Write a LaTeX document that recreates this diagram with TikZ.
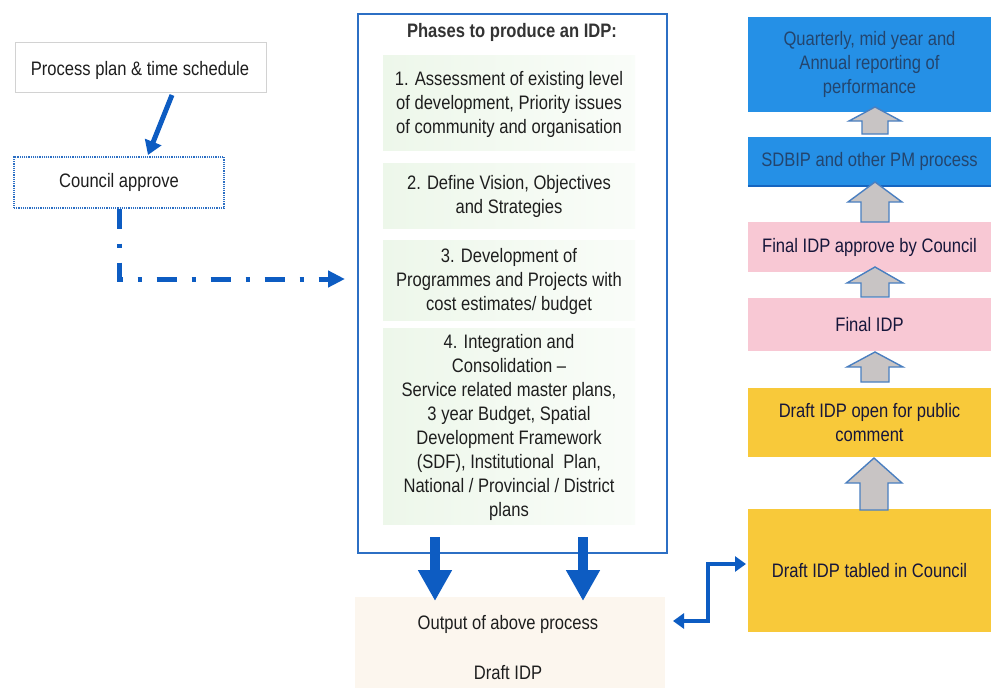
\documentclass[tikz,border=0pt]{standalone}
\usepackage{fontspec}
\setmainfont{Liberation Sans}[FakeStretch=0.85]
\usetikzlibrary{arrows.meta}
\definecolor{arrblue}{HTML}{0D5CC2}
\definecolor{phaseblue}{HTML}{2C6FC4}
\definecolor{panelg}{HTML}{EDF7EA}
\definecolor{outfill}{HTML}{FCF6EE}
\definecolor{boxblue}{HTML}{2590E6}
\definecolor{boxblueline}{HTML}{1565C0}
\definecolor{boxpink}{HTML}{F8C8D4}
\definecolor{boxyellow}{HTML}{F8C93A}
\definecolor{txtdark}{HTML}{1E1E1E}
\definecolor{txtnavy}{HTML}{16163A}
\definecolor{txtblue}{HTML}{23456E}
\definecolor{arrgray}{HTML}{C8C4C4}
\definecolor{arredge}{HTML}{4A7FC0}
\newcommand{\UpArrow}[6]{%
  \draw[blockarr] (#1,#2) -- (#1+#5,#3) -- (#1+#6,#3) -- (#1+#6,#4)
    -- (#1-#6,#4) -- (#1-#6,#3) -- (#1-#5,#3) -- cycle;}
\begin{document}
\begin{tikzpicture}[x=1pt,y=-1pt,
  every node/.style={font=\fontsize{19.5}{24}\selectfont, text=txtdark, inner sep=0pt},
  plainbox/.style={draw=gray!35, line width=0.8pt, minimum width=251pt, minimum height=50pt},
  dotbox/.style={draw=phaseblue, densely dotted, line width=1.2pt, minimum width=210pt, minimum height=51pt},
  phasebox/.style={draw=phaseblue, line width=1.6pt, minimum width=309pt, minimum height=539pt},
  panel/.style={left color=panelg, right color=panelg!30, minimum width=252pt, align=center},
  rbox/.style={minimum width=243pt, align=center, text=txtnavy},
  blockarr/.style={fill=arrgray, draw=arredge, line width=1.4pt, line join=miter},
  fatarrow/.style={draw=arrblue, line width=10pt, -{Triangle[length=31pt,width=32pt]}},
  diagarrow/.style={draw=arrblue, line width=5pt, -{Triangle[length=14pt,width=17pt]}},
  elbowarrow/.style={draw=arrblue, line width=4pt, {Triangle[length=11pt,width=15pt]}-{Triangle[length=11pt,width=15pt]}},
  dashconn/.style={draw=arrblue, line width=5pt, dash pattern=on 20pt off 15pt on 4pt off 15pt, -{Triangle[length=17pt,width=16pt]}}
]
\useasboundingbox (0,0) rectangle (991,688);
\fill[white] (0,0) rectangle (991,688);

% left column
\node[plainbox] (plan) at (140.5,67) {};
\node (plantxt) at (140,70) {Process plan \& time schedule};
\node[dotbox] (council) at (119,182.5) {Council approve};
\draw[diagarrow] (172,95) -- (148,155);
\coordinate (cin) at (345,279);
\draw[dashconn] (council.south) |- (cin);

% phases box
\node[phasebox] (phases) at (512.5,283.5) {};
\node[font=\fontsize{19.5}{24}\selectfont\bfseries, text=black!80] (title) at (512,32) {Phases to produce an IDP:};
\node[panel, minimum height=95pt] (p1) at (509,102.5) {};
\node[align=center] (p1t) at (509,104) {1. Assessment of existing level\\of development, Priority issues\\of community and organisation};
\node[panel, minimum height=65pt] (p2) at (509,195.5) {};
\node[align=center] (p2t) at (509,196) {2. Define Vision, Objectives\\and Strategies};
\node[panel, minimum height=80pt] (p3) at (509,280) {};
\node[align=center] (p3t) at (509,281) {3. Development of\\Programmes and Projects with\\cost estimates/ budget};
\node[panel, minimum height=196pt] (p4) at (509,426) {};
\node[align=center] (p4t) at (509,427) {4. Integration and\\Consolidation --\\Service related master plans,\\3 year Budget, Spatial\\Development Framework\\(SDF), Institutional~ Plan,\\National / Provincial / District\\plans};

% output box
\node[fill=outfill, minimum width=310pt, minimum height=91pt] (out) at (510,642.5) {};
\node (outt1) at (508,624) {Output of above process};
\node (outt2) at (508,673) {Draft IDP};
\draw[fatarrow] (435,537) -- (435,601);
\draw[fatarrow] (583,537) -- (583,601);

% right column
\node[rbox, fill=boxblue, minimum height=95pt, text=txtblue] (b1) at (869.5,64.5) {Quarterly, mid year and\\Annual reporting of\\performance};
\node[rbox, fill=boxblue, minimum height=49pt, text=txtblue] (b2) at (869.5,161.5) {SDBIP and other PM process};
\draw[boxblueline, line width=2pt] (b2.south west) -- (b2.south east);
\node[rbox, fill=boxpink, minimum height=50pt] (b3) at (869.5,247) {Final IDP approve by Council};
\node[rbox, fill=boxpink, minimum height=53pt] (b4) at (869.5,324.5) {Final IDP};
\node[rbox, fill=boxyellow, minimum height=69pt] (b5) at (869.5,422.5) {Draft IDP open for public\\comment};
\node[rbox, fill=boxyellow, minimum height=123pt] (b6) at (869.5,570.5) {Draft IDP tabled in Council};

\UpArrow{875}{107}{121}{134}{26}{13}
\UpArrow{875}{182}{202}{222}{27}{14}
\UpArrow{875}{267}{283}{297}{28}{14}
\UpArrow{875}{352}{367}{382}{28}{14}
\UpArrow{874}{458}{483}{510}{28}{14}

% elbow connector
\coordinate (ea) at (673,621);
\coordinate (eb) at (746,564);
\draw[elbowarrow] (ea) -- (708,621) |- (eb);
\end{tikzpicture}
\end{document}
